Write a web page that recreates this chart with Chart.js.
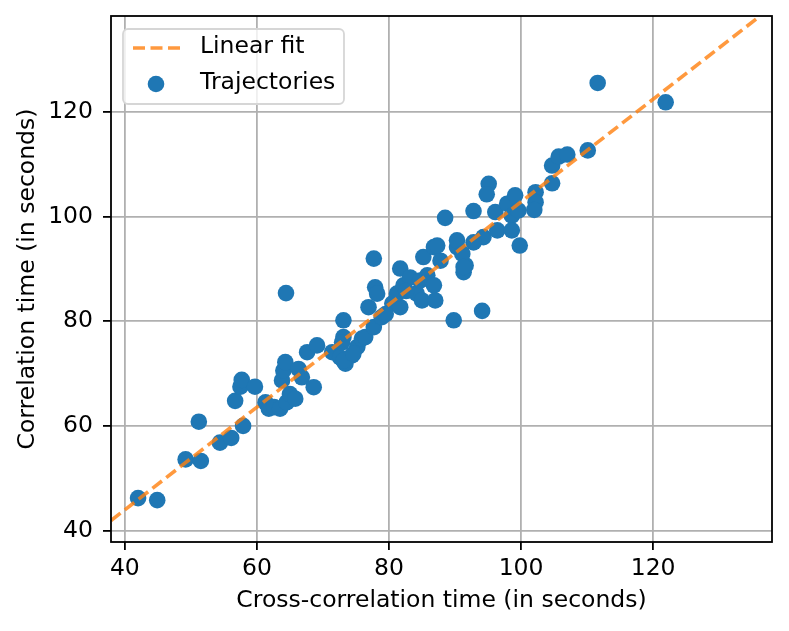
<!DOCTYPE html>
<html>
<head>
<meta charset="utf-8">
<script src="https://cdn.jsdelivr.net/npm/chart.js@4"></script>
<style>
  html, body { margin: 0; padding: 0; background: #fff; }
  #wrap { width: 789px; height: 631px; }
</style>
</head>
<body>
<div id="wrap"><canvas id="chart" width="789" height="631"></canvas></div>
<script>
/* Värden */
const trajX = [
  42.0, 44.9, 49.2, 51.5, 51.2, 54.4, 56.1, 57.9, 56.7, 57.5, 57.7, 59.7,
  61.3, 61.8, 62.6, 63.5, 64.5, 65.0, 65.8, 63.8, 64.0, 64.3, 64.4, 66.3,
  66.8, 68.6, 67.6, 69.1, 71.4, 72.6, 73.4, 73.1, 75.2, 75.9, 74.4,
  77.7, 77.9, 78.2, 76.9, 73.1, 72.9, 73.1, 74.6, 76.4, 77.7, 78.9, 80.5,
  81.7, 81.2, 81.7, 82.2, 83.2, 84.2, 85.0, 84.7, 85.8, 86.8, 87.0, 85.2,
  86.8, 87.8, 89.8, 90.3, 91.3, 91.6, 79.5, 82.6,
  88.5, 92.8, 95.1, 94.8, 96.1, 97.9, 99.1, 98.6, 99.6, 96.4, 94.3, 92.8,
  90.3, 87.3, 91.1, 98.6, 99.8, 102.2, 102.2, 102.0, 104.7, 104.7, 105.7,
  107.0, 110.1, 91.3, 94.1, 111.6, 121.9
];
const trajY = [
  46.2, 45.8, 53.6, 53.3, 60.8, 56.8, 57.7, 60.0, 64.8, 67.5, 68.8, 67.5,
  64.5, 63.3, 63.6, 63.3, 64.5, 66.1, 65.2, 68.7, 70.6, 72.2, 85.4, 70.9,
  69.3, 67.4, 74.1, 75.4, 74.1, 73.1, 71.9, 77.0, 75.1, 76.7, 73.5,
  92.0, 86.5, 85.3, 82.7, 80.2, 76.0, 72.5, 73.8, 77.0, 78.9, 80.8, 83.4,
  82.7, 85.3, 90.1, 86.9, 88.4, 85.3, 84.0, 87.8, 88.8, 86.9, 84.0, 92.3,
  94.2, 91.6, 80.2, 94.2, 89.4, 90.7, 81.4, 85.8,
  99.8, 101.1, 106.3, 104.3, 100.9, 102.5, 104.1, 100.2, 101.2, 97.4, 96.1, 95.1,
  95.5, 94.5, 92.9, 97.4, 94.5, 104.7, 102.8, 101.3, 106.4, 109.8, 111.5,
  111.9, 112.7, 90.4, 82.0, 125.6, 121.9
];
/* Ändpunkter för den anpassade linjen */
const fitX = [37.9, 136.2];
const fitY = [41.9, 138.4];
/* Axelgränser och tickar */
const xRange = [37.9, 138.0];
const yRange = [37.8, 138.4];
const xTicks = [40, 60, 80, 100, 120];
const yTicks = [40, 60, 80, 100, 120];

const FONT = 'DejaVu Sans, sans-serif';
const fontSize = 23.5;
Chart.defaults.color = '#000';
Chart.defaults.font.family = FONT;
Chart.defaults.font.size = fontSize;

const points = trajX.map((x, i) => ({ x, y: trajY[i] }));
const fitLine = fitX.map((x, i) => ({ x, y: fitY[i] }));

/* Ram runt diagramytan plus legenden i övre vänstra hörnet */
const framePlugin = {
  id: 'frameAndLegend',
  afterDraw(chart) {
    const { ctx, chartArea: a } = chart;
    ctx.save();
    ctx.strokeStyle = '#000';
    ctx.lineWidth = 1.8;
    ctx.strokeRect(a.left, a.top, a.right - a.left, a.bottom - a.top);

    // legendruta
    const bx = 123, by = 29, bw = 221, bh = 75, r = 5;
    ctx.beginPath();
    ctx.roundRect(bx, by, bw, bh, r);
    ctx.fillStyle = 'rgba(255,255,255,0.8)';
    ctx.fill();
    ctx.strokeStyle = '#d6d6d6';
    ctx.lineWidth = 1.8;
    ctx.stroke();

    const ds = chart.data.datasets;
    // streckad linje
    ctx.beginPath();
    ctx.setLineDash([12, 5.5]);
    ctx.strokeStyle = ds[0].borderColor;
    ctx.lineWidth = 3.6;
    ctx.moveTo(133, 48);
    ctx.lineTo(181, 48);
    ctx.stroke();
    ctx.setLineDash([]);
    // punkt
    ctx.beginPath();
    ctx.arc(156, 84, 8.3, 0, Math.PI * 2);
    ctx.fillStyle = ds[1].backgroundColor;
    ctx.fill();

    ctx.fillStyle = '#000';
    ctx.font = fontSize + 'px ' + FONT;
    ctx.textBaseline = 'middle';
    ctx.textAlign = 'left';
    ctx.fillText(ds[0].label, 200, 47);
    ctx.fillText(ds[1].label, 200, 83);
    ctx.restore();
  }
};

new Chart(document.getElementById('chart'), {
  type: 'scatter',
  data: {
    datasets: [
      {
        type: 'line',
        label: 'Linear fit',
        data: fitLine,
        borderColor: 'rgba(255,127,14,0.8)',
        borderWidth: 3.6,
        borderDash: [12, 5.5],
        pointRadius: 0,
        fill: false
      },
      {
        label: 'Trajectories',
        data: points,
        backgroundColor: '#1f77b4',
        borderWidth: 0,
        pointRadius: 8.3,
        pointHoverRadius: 8.3
      }
    ]
  },
  options: {
    responsive: false,
    animation: false,
    devicePixelRatio: 1,
    layout: { padding: { top: 16, right: 17, left: 0, bottom: 0 } },
    plugins: {
      legend: { display: false },
      tooltip: { enabled: false }
    },
    scales: {
      x: {
        type: 'linear',
        min: xRange[0],
        max: xRange[1],
        afterBuildTicks: (s) => { s.ticks = xTicks.map((v) => ({ value: v })); },
        afterFit: (s) => { s.height = 89; s.paddingLeft = 0; s.paddingRight = 0; },
        grid: { color: '#b0b0b0', lineWidth: 1.8, tickColor: '#000', tickLength: 8 },
        border: { display: false },
        ticks: { padding: 5, maxRotation: 0 },
        title: {
          display: true,
          text: 'Cross-correlation time (in seconds)',
          padding: { top: 0, bottom: 16 }
        }
      },
      y: {
        type: 'linear',
        min: yRange[0],
        max: yRange[1],
        afterBuildTicks: (s) => { s.ticks = yTicks.map((v) => ({ value: v })); },
        afterFit: (s) => { s.width = 111; s.paddingTop = 0; s.paddingBottom = 0; },
        grid: { color: '#b0b0b0', lineWidth: 1.8, tickColor: '#000', tickLength: 8 },
        border: { display: false },
        ticks: { padding: 10 },
        title: {
          display: true,
          text: 'Correlation time (in seconds)',
          padding: { top: 14, bottom: 0 }
        }
      }
    }
  },
  plugins: [framePlugin]
});
</script>
</body>
</html>
